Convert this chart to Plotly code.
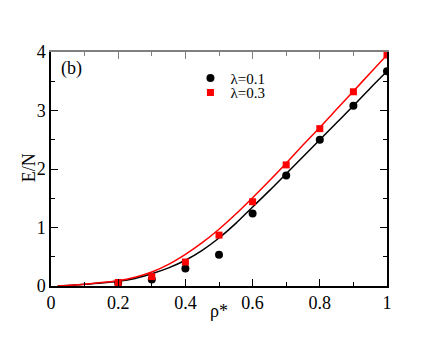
import plotly.graph_objects as go

# Data
rho_pts = [0.2, 0.3, 0.4, 0.5, 0.6, 0.7, 0.8, 0.9, 1.0]
e_l01 = [0.05, 0.11, 0.30, 0.535, 1.24, 1.89, 2.50, 3.08, 3.67]
e_l03 = [0.06, 0.16, 0.41, 0.87, 1.44, 2.07, 2.69, 3.32, 3.95]

rho_curve = [0.02, 0.05, 0.1, 0.15, 0.2, 0.25, 0.3, 0.35, 0.4, 0.45, 0.5,
             0.55, 0.6, 0.65, 0.7, 0.75, 0.8, 0.85, 0.9, 0.95, 1.0]
curve_l01 = [0.0, 0.01, 0.03, 0.05, 0.08, 0.13, 0.21, 0.31, 0.44, 0.61, 0.82,
             1.07, 1.35, 1.63, 1.92, 2.21, 2.50, 2.79, 3.08, 3.38, 3.67]
curve_l03 = [0.0, 0.01, 0.03, 0.06, 0.09, 0.15, 0.24, 0.37, 0.54, 0.74, 0.97,
             1.23, 1.51, 1.80, 2.10, 2.41, 2.71, 3.02, 3.33, 3.64, 3.95]

x_ticks = [0, 0.2, 0.4, 0.6, 0.8, 1]
x_tick_labels = ["0", "0.2", "0.4", "0.6", "0.8", "1"]
y_ticks = [0, 1, 2, 3, 4]
y_tick_labels = ["0", "1", "2", "3", "4"]

FONT = "Liberation Serif, Times New Roman, serif"

fig = go.Figure()
fig.add_trace(go.Scatter(x=rho_curve, y=curve_l01, mode="lines", line=dict(color="black", width=1.5, shape="spline"),
                         showlegend=False, hoverinfo="skip"))
fig.add_trace(go.Scatter(x=rho_curve, y=curve_l03, mode="lines", line=dict(color="#ff0000", width=1.5, shape="spline"),
                         showlegend=False, hoverinfo="skip"))
fig.add_trace(go.Scatter(x=rho_pts, y=e_l01, mode="markers", name="λ=0.1", legend="legend",
                         marker=dict(symbol="circle", color="black", size=8)))
fig.add_trace(go.Scatter(x=rho_pts, y=e_l03, mode="markers", name="λ=0.3", legend="legend2",
                         marker=dict(symbol="square", color="#ff0000", size=7)))
# invisible trace to carry the top axis
fig.add_trace(go.Scatter(x=rho_curve, y=curve_l01, mode="lines", xaxis="x2", line=dict(width=0),
                         opacity=0, showlegend=False, hoverinfo="skip"))

leg_common = dict(x=0.415, xanchor="left", yanchor="middle", bgcolor="rgba(0,0,0,0)",
                  font=dict(family=FONT, size=15), itemwidth=30)

fig.update_layout(
    width=436, height=337,
    margin=dict(l=43, r=57, t=44, b=59),
    paper_bgcolor="white", plot_bgcolor="white",
    font=dict(family=FONT, size=18, color="black"),
    showlegend=True,
    legend=dict(y=0.888, **leg_common),
    legend2=dict(y=0.826, **leg_common),
    xaxis=dict(range=[0, 1], tickvals=x_ticks, ticktext=x_tick_labels, showgrid=False, zeroline=False,
               showline=True, linecolor="black", linewidth=1.5, ticks="inside", ticklen=7, tickcolor="black",
               minor=dict(dtick=0.1, ticks="inside", ticklen=4, tickcolor="black"),
               tickfont=dict(family=FONT, size=18), mirror=False),
    xaxis2=dict(range=[0, 1], overlaying="x", side="top", showgrid=False, zeroline=False,
                showline=True, linecolor="#808080", linewidth=1.5, ticks="inside", ticklen=7, tickcolor="#808080",
                tickvals=x_ticks, showticklabels=False,
                minor=dict(dtick=0.1, ticks="inside", ticklen=4, tickcolor="#808080")),
    yaxis=dict(range=[0, 4], tickvals=y_ticks, ticktext=y_tick_labels, showgrid=False, zeroline=False,
               showline=True, linecolor="black", linewidth=1.5, ticks="inside", ticklen=7, tickcolor="black",
               minor=dict(dtick=0.5, ticks="inside", ticklen=4, tickcolor="black"),
               tickfont=dict(family=FONT, size=18), mirror="ticks"),
    annotations=[
        dict(text="(b)", x=0.025, y=0.985, xref="paper", yref="paper", xanchor="left", yanchor="top",
             showarrow=False, font=dict(family=FONT, size=18)),
        dict(text="ρ*", x=0.5, y=-0.105, xref="paper", yref="paper", xanchor="center", yanchor="middle",
             showarrow=False, font=dict(family=FONT, size=18)),
        dict(text="E/N", x=-0.065, y=0.504, xref="paper", yref="paper", xanchor="center", yanchor="middle",
             textangle=-90, showarrow=False, font=dict(family=FONT, size=18)),
    ],
)

fig.write_html("out.html")
